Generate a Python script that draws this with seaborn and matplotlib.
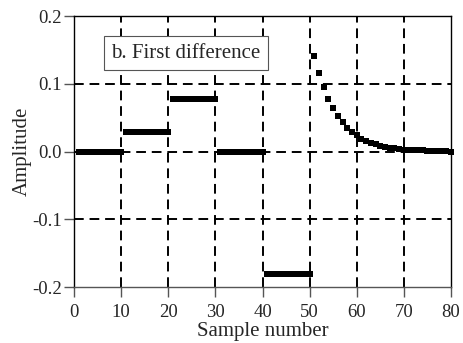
import matplotlib
matplotlib.use("Agg")
import matplotlib.pyplot as plt
import seaborn as sns
import pandas as pd

# sample numbers and first-difference values
samples = list(range(1, 81))
seg_flat1 = [0.0] * 10          # 1..10
seg_step1 = [0.029] * 10        # 11..20
seg_step2 = [0.078] * 10        # 21..30
seg_flat2 = [0.0] * 10          # 31..40
seg_neg = [-0.181] * 10         # 41..50
seg_decay = [0.141, 0.116, 0.095, 0.078, 0.064, 0.052, 0.043, 0.035, 0.029, 0.024,
             0.019, 0.016, 0.013, 0.011, 0.009, 0.007, 0.006, 0.005, 0.004, 0.003,
             0.003, 0.002, 0.002, 0.002, 0.001, 0.001, 0.001, 0.001, 0.001, 0.0]
amplitude = seg_flat1 + seg_step1 + seg_step2 + seg_flat2 + seg_neg + seg_decay

x_ticks = [0, 10, 20, 30, 40, 50, 60, 70, 80]
y_ticks = [-0.2, -0.1, 0.0, 0.1, 0.2]
y_tick_labels = ["-0.2", "-0.1", "0.0", "0.1", "0.2"]

df = pd.DataFrame({"sample": samples, "amp": amplitude})

sns.set_style("ticks")
plt.rcParams['font.family'] = ['Liberation Serif', 'DejaVu Serif']

fig = plt.figure(figsize=(4.63, 3.43), dpi=100)
ax = fig.add_axes([0.160, 0.163, 0.814, 0.790])

# dashed grid
for xv in x_ticks[1:-1]:
    ax.axvline(xv, color='black', lw=1.4, ls=(0, (5, 3)), zorder=1)
for yv in y_ticks[1:-1]:
    ax.axhline(yv, color='black', lw=1.4, ls=(0, (5, 3)), zorder=1)

sns.scatterplot(data=df, x="sample", y="amp", ax=ax, marker='s', s=24,
                color='black', linewidth=0, zorder=3)
for coll in ax.collections:
    coll.set_clip_on(False)

ax.set_xlim(0, 80)
ax.set_ylim(-0.2, 0.2)
ax.set_xticks(x_ticks)
ax.set_yticks(y_ticks)
ax.set_yticklabels(y_tick_labels)
ax.tick_params(axis='both', labelsize=13.5, length=7, width=1, color='#555555',
               direction='out')
ax.tick_params(axis='x', pad=5)
ax.tick_params(axis='y', pad=2)
ax.set_xlabel("Sample number", fontsize=15, labelpad=1)
ax.set_ylabel("Amplitude", fontsize=15, labelpad=0)

for side in ['left', 'right', 'top']:
    ax.spines[side].set_color('black')
    ax.spines[side].set_linewidth(1)
ax.spines['bottom'].set_color('#555555')
ax.spines['bottom'].set_linewidth(1)

ax.text(0.296, 0.863, "b. First difference", transform=ax.transAxes,
        ha='center', va='center', fontsize=15, zorder=4,
        bbox=dict(boxstyle='square,pad=0.35', fc='white', ec='#555555', lw=0.8))

fig.savefig("out.png", dpi=100)
